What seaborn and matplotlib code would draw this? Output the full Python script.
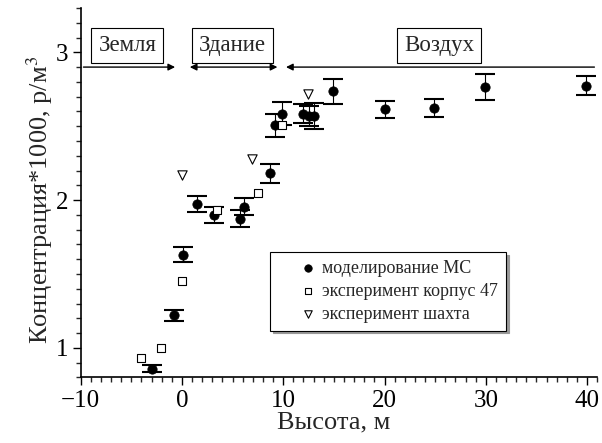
import numpy as np
import pandas as pd
import seaborn as sns
import matplotlib.pyplot as plt
from matplotlib.ticker import MultipleLocator

# model (MC) points with error bars
x_mc = [-3.0, -0.8, 0.15, 1.5, 3.15, 5.7, 6.1, 8.7, 9.2, 9.9, 12.0, 12.5, 13.0, 14.9, 20.0, 24.9, 29.9, 39.9]
y_mc = [0.86, 1.22, 1.63, 1.975, 1.90, 1.875, 1.955, 2.18, 2.505, 2.585, 2.585, 2.57, 2.57, 2.735, 2.615, 2.625, 2.765, 2.775]
err_mc = [0.025, 0.035, 0.05, 0.054, 0.056, 0.056, 0.057, 0.067, 0.077, 0.077, 0.065, 0.07, 0.09, 0.085, 0.057, 0.06, 0.085, 0.062]

# experiment, building 47
x_k47 = [-4.05, -2.05, 0.0, 3.45, 7.5, 9.9]
y_k47 = [0.93, 1.0, 1.455, 1.93, 2.05, 2.51]

# experiment, shaft
x_sh = [0.0, 6.9, 12.45]
y_sh = [2.17, 2.275, 2.72]

labels = ['моделирование МС', 'эксперимент корпус 47', 'эксперимент шахта']

# zones along the top line
zone_names = ['Земля', 'Здание', 'Воздух']
zone_text_x = [-5.4, 5.0, 25.4]
line_y = 2.9

sns.set_style('ticks')
plt.rcParams['font.family'] = ['Liberation Serif', 'DejaVu Serif']
plt.rcParams['mathtext.fontset'] = 'stix'

fig = plt.figure(figsize=(6.02, 4.43), dpi=100)
ax = fig.add_axes([0.134, 0.148, 0.858, 0.834])

ax.errorbar(x_mc, y_mc, yerr=err_mc, fmt='none', ecolor='black',
            elinewidth=0.8, capsize=7, capthick=1.5, zorder=2)

df_mc = pd.DataFrame({'x': x_mc, 'y': y_mc})
df_k = pd.DataFrame({'x': x_k47, 'y': y_k47})
df_s = pd.DataFrame({'x': x_sh, 'y': y_sh})

sns.scatterplot(data=df_mc, x='x', y='y', marker='o', color='black', s=45,
                edgecolor='black', label=labels[0], ax=ax, zorder=3)
sns.scatterplot(data=df_k, x='x', y='y', marker='s', color='white', s=36,
                edgecolor='black', linewidth=0.8, label=labels[1], ax=ax, zorder=3)
sns.scatterplot(data=df_s, x='x', y='y', marker='v', color='white', s=45,
                edgecolor='black', linewidth=0.8, label=labels[2], ax=ax, zorder=3)

# zone arrows
arr = dict(arrowstyle='-|>', color='black', lw=1.0, mutation_scale=10)
ax.annotate('', xy=(-0.4, line_y), xytext=(-10, line_y), arrowprops=arr)
ax.annotate('', xy=(9.7, line_y), xytext=(0.5, line_y),
            arrowprops=dict(arrowstyle='<|-|>', color='black', lw=1.0, mutation_scale=10))
ax.annotate('', xy=(10.0, line_y), xytext=(41, line_y), arrowprops=arr)

box = dict(boxstyle='square,pad=0.3', facecolor='white', edgecolor='black', lw=0.8)
for name, tx in zip(zone_names, zone_text_x):
    ax.text(tx, 3.045, name, ha='center', va='center', fontsize=16.5, bbox=box)

ax.set_xlim(-10, 41)
ax.set_ylim(0.8, 3.3)
ax.xaxis.set_major_locator(MultipleLocator(10))
ax.xaxis.set_minor_locator(MultipleLocator(1))
ax.yaxis.set_major_locator(MultipleLocator(1))
ax.yaxis.set_minor_locator(MultipleLocator(0.1))
ax.tick_params(which='major', direction='out', length=6, width=1, labelsize=18,
               colors='black', pad=3)
ax.tick_params(which='minor', direction='out', length=3.5, width=1)
sns.despine(ax=ax)
for s in ['left', 'bottom']:
    ax.spines[s].set_linewidth(1.2)
    ax.spines[s].set_color('black')

ax.set_xlabel('Высота, м', fontsize=19)
ax.set_ylabel('Концентрация*1000, р/м$^3$', fontsize=19)
ax.xaxis.set_label_coords(0.49, -0.092)
ax.yaxis.set_label_coords(-0.05, 0.48)

leg = ax.legend(loc='upper left', bbox_to_anchor=(0.367, 0.339), borderaxespad=0,
                fontsize=13, frameon=True, fancybox=False, edgecolor='black',
                handlelength=3.35, handletextpad=-0.9, borderpad=0.43,
                labelspacing=0.33, markerscale=0.8,
                shadow={'color': '0.6', 'alpha': 1})
leg.get_frame().set_linewidth(0.8)

fig.savefig('out.png', dpi=100)
